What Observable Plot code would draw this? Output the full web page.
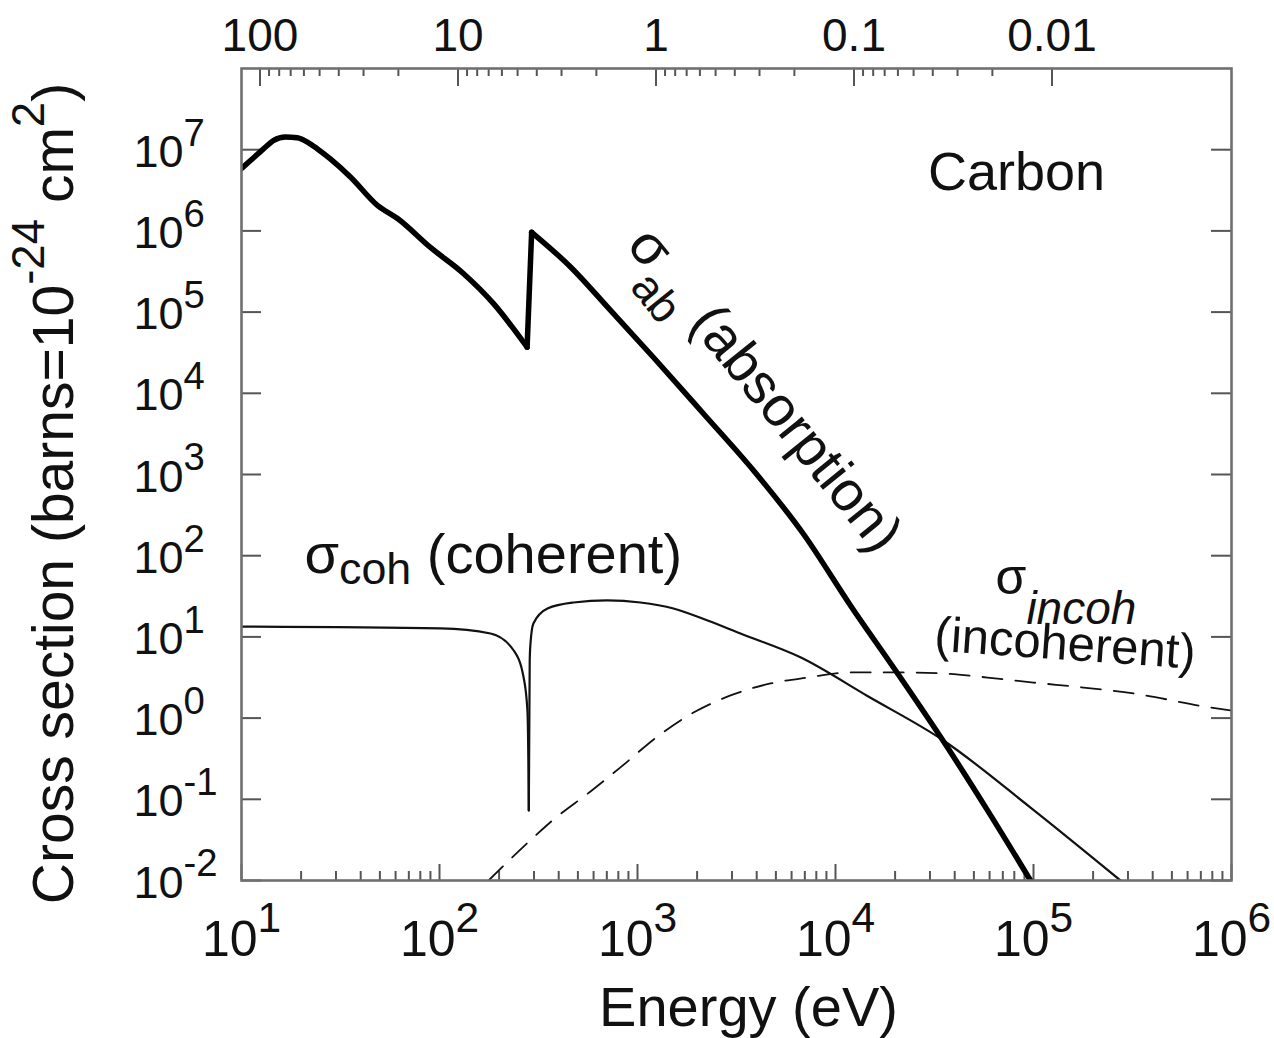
<!DOCTYPE html>
<html>
<head>
<meta charset="utf-8">
<script src="https://cdn.jsdelivr.net/npm/d3@7"></script>
<script src="https://cdn.jsdelivr.net/npm/@observablehq/plot@0.6"></script>
<style>
  html, body { margin: 0; padding: 0; background: #fff; }
  #chart svg { display: block; }
</style>
</head>
<body>
<div id="chart"></div>
<script>
// ---------- data ----------
const hc = 1239.84;    // eV·nm, for the wavelength (nm) axis on top
const kEdge = 284;     // carbon K edge (eV)

// absorption cross section (barns) vs photon energy (eV)
const absEnergy = [10, 11.1, 12.96, 14.55, 16.67, 19.1, 21.5, 24.1, 28.1, 35.6, 48.6, 61.4, 90, 132, 187, 277, 292, 459, 731, 1205, 2155, 3855, 6890, 11900, 20600, 36800, 58600, 96600];
const absSigma  = [5.86e6, 7.36e6, 1.03e7, 1.30e7, 1.43e7, 1.40e7, 1.24e7, 1.03e7, 7.7e6, 4.58e6, 2.06e6, 1.42e6, 6.25e5, 2.99e5, 1.28e5, 3.7e4, 9.6e5, 3.6e5, 1.05e5, 2.76e4, 5.6e3, 1.12e3, 185, 24.4, 3.54, 0.434, 0.073, 0.01];

// coherent scattering cross section
const cohEnergy = [10, 101, 181, 237, 266, 278, 281, 282.5, 285.5, 288, 298, 351, 475, 705, 1035, 1520, 2260, 3311, 6650, 14500, 35100, 96600, 275000];
const cohSigma  = [13.4, 12.7, 11.0, 6.8, 3.16, 1.24, 0.30, 0.073, 5.1, 8.2, 14.6, 22.4, 26.5, 28.1, 26.5, 22.4, 15.9, 11.0, 5.6, 1.87, 0.53, 0.079, 0.01];

// incoherent scattering cross section
const incEnergy = [177, 298, 377, 579, 820, 1262, 1918, 2950, 4700, 7230, 11900, 21300, 35100, 58600, 100000, 179000, 320000, 783000, 1000000];
const incSigma  = [0.01, 0.0339, 0.0564, 0.125, 0.247, 0.593, 1.17, 1.9, 2.67, 3.16, 3.65, 3.65, 3.54, 3.16, 2.74, 2.38, 2.01, 1.35, 1.24];

// axis ticks
const xMajor = [1e1, 1e2, 1e3, 1e4, 1e5, 1e6];
const xMinorMult = [2, 3, 4, 5, 6, 7, 8, 9];
const yMajor = [1e-2, 1e-1, 1e0, 1e1, 1e2, 1e3, 1e4, 1e5, 1e6, 1e7];
const wlLabels = [100, 10, 1, 0.1, 0.01]; // nm
const wlMinorDecades = [10, 1, 0.1, 0.01];

const xMinor = [];
for (const d of xMajor.slice(0, -1)) for (const m of xMinorMult) xMinor.push(d * m);
const wlMinor = [];
for (const d of wlMinorDecades) for (const m of xMinorMult) wlMinor.push(d * m);

const absData = absEnergy.map((e, i) => ({e, s: absSigma[i]}));
const cohData = cohEnergy.map((e, i) => ({e, s: cohSigma[i]}));
const incData = incEnergy.map((e, i) => ({e, s: incSigma[i]}));

// split at the K edge so the smooth curve keeps the sharp jump
const absLow = absData.filter(d => d.e < kEdge);
const absHigh = absData.filter(d => d.e > kEdge);
const absJump = [absLow[absLow.length - 1], absHigh[0]];
const cohMinIdx = cohSigma.indexOf(Math.min(...cohSigma.filter((s, i) => cohEnergy[i] > 200 && cohEnergy[i] < 300)));
const cohLow = cohData.slice(0, cohMinIdx + 1);
const cohHigh = cohData.slice(cohMinIdx);

// ---------- layout ----------
const W = 1274, H = 1038;
const mL = 241, mR = 43, mT = 68, mB = 158;
const fw = W - mL - mR, fh = H - mT - mB;
const fontFamily = "'Liberation Sans', Arial, Helvetica, sans-serif";
const tickColor = "#555";
const ink = "#111";

const expLabel = d => `10^{${Math.round(Math.log10(d))}}`;
const absStyle = {x: "e", y: "s", stroke: "#000", strokeWidth: 5.5, strokeLinejoin: "round", strokeLinecap: "round", clip: true};
const cohStyle = {x: "e", y: "s", stroke: ink, strokeWidth: 2.2, strokeLinejoin: "round", clip: true};

const plot = Plot.plot({
  width: W, height: H,
  marginLeft: mL, marginRight: mR, marginTop: mT, marginBottom: mB,
  x: {type: "log", domain: [10, 1e6], axis: null},
  y: {type: "log", domain: [1e-2, 1e8], axis: null},
  style: {fontFamily, background: "white", color: ink},
  marks: [
    // inward ticks
    Plot.tickX(xMinor, {x: d => d, insetTop: fh - 9, stroke: tickColor, strokeWidth: 2}),
    Plot.tickX(xMajor, {x: d => d, insetTop: fh - 16, stroke: tickColor, strokeWidth: 2}),
    Plot.tickX(wlMinor, {x: d => hc / d, insetBottom: fh - 8, stroke: tickColor, strokeWidth: 2}),
    Plot.tickX(wlLabels, {x: d => hc / d, insetBottom: fh - 18, stroke: tickColor, strokeWidth: 2}),
    Plot.tickY(yMajor, {y: d => d, insetRight: fw - 20, stroke: tickColor, strokeWidth: 2}),
    Plot.tickY(yMajor, {y: d => d, insetLeft: fw - 20, stroke: tickColor, strokeWidth: 2}),

    // curves
    Plot.line(incData, {x: "e", y: "s", stroke: ink, strokeWidth: 1.8, strokeDasharray: "20,13", curve: "monotone-x", clip: true}),
    Plot.line(cohLow, {...cohStyle, curve: "monotone-x"}),
    Plot.line(cohHigh, {...cohStyle, curve: "monotone-x"}),
    Plot.line(absLow, {...absStyle, curve: "monotone-x"}),
    Plot.line(absJump, {...absStyle, curve: "linear"}),
    Plot.line(absHigh, {...absStyle, curve: "monotone-x"}),

    Plot.frame({stroke: "#707070", strokeWidth: 2.6}),

    // tick labels
    Plot.text(yMajor, {y: d => d, text: expLabel, frameAnchor: "left", dx: -108, dy: 17,
      textAnchor: "start", lineAnchor: "bottom", fontSize: 45, fill: ink}),
    Plot.text(xMajor, {x: d => d, text: expLabel, frameAnchor: "bottom", dy: 75,
      textAnchor: "middle", lineAnchor: "bottom", fontSize: 50, fill: ink}),
    Plot.text(wlLabels, {x: d => hc / d, text: d => String(d), frameAnchor: "top", dy: -18,
      textAnchor: "middle", lineAnchor: "bottom", fontSize: 46, fill: ink}),

    // axis titles
    Plot.text(["Cross section (barns=10^{-24} cm^{2})"], {text: d => d, frameAnchor: "left", dx: -169, dy: 19,
      rotate: -90, textAnchor: "middle", lineAnchor: "bottom", fontSize: 57, fill: ink}),
    Plot.text(["Energy (eV)"], {text: d => d, frameAnchor: "bottom", dx: 12, dy: 145,
      textAnchor: "middle", lineAnchor: "bottom", fontSize: 56, fill: ink}),

    // annotations
    Plot.text([{x: 8.2e4, y: 3.15e6, t: "Carbon"}], {x: "x", y: "y", text: "t",
      textAnchor: "middle", lineAnchor: "bottom", fontSize: 54, fill: ink}),
    Plot.text([{x: 20.8, y: 62, t: "σ_{coh} (coherent)"}], {x: "x", y: "y", text: "t",
      textAnchor: "start", lineAnchor: "bottom", fontSize: 56, fill: ink}),
    Plot.text([{x: 869, y: 6.56e5, t: "σ_{ab} (absorption)"}], {x: "x", y: "y", text: "t", rotate: 51,
      textAnchor: "start", lineAnchor: "bottom", fontSize: 56, fill: ink}),
    Plot.text([{x: 6.43e4, y: 34.2, t: "σ_{incoh}"}], {x: "x", y: "y", text: "t",
      textAnchor: "start", lineAnchor: "bottom", fontSize: 50, fill: ink}),
    Plot.text([{x: 3.13e4, y: 6.8, t: "(incoherent)"}], {x: "x", y: "y", text: "t", rotate: 4,
      textAnchor: "start", lineAnchor: "bottom", fontSize: 49, fill: ink})
  ]
});

document.getElementById("chart").appendChild(plot);

// ---------- rich text (super/subscripts) ----------
const richOpts = {
  "σ_{coh} (coherent)": {sub: {scale: 0.8, shift: 0.2}},
  "σ_{ab} (absorption)": {sub: {scale: 0.8, shift: 0.42}},
  "σ_{incoh}": {sub: {scale: 0.92, shift: 0.6, italic: true}},
  "Cross section (barns=10^{-24} cm^{2})": {sup: {scale: 0.8, shift: -0.5}}
};
const defaultOpts = {sup: {scale: 0.85, shift: -0.47}, sub: {scale: 0.8, shift: 0.25}};
const svgNS = "http://www.w3.org/2000/svg";

plot.querySelectorAll("text").forEach(el => {
  const raw = el.textContent;
  if (!raw.includes("{")) return;
  const fs = parseFloat(getComputedStyle(el).fontSize);
  const opts = Object.assign({}, defaultOpts, richOpts[raw] || {});
  const parts = [];
  const re = /(\^|_)\{([^}]*)\}/g;
  let last = 0, m;
  while ((m = re.exec(raw))) {
    if (m.index > last) parts.push({t: raw.slice(last, m.index)});
    parts.push(Object.assign({t: m[2]}, m[1] === "^" ? opts.sup : opts.sub));
    last = re.lastIndex;
  }
  if (last < raw.length) parts.push({t: raw.slice(last)});
  el.textContent = "";
  el.style.whiteSpace = "pre";
  let cur = 0;
  for (const p of parts) {
    const ts = document.createElementNS(svgNS, "tspan");
    const target = (p.shift || 0) * fs;
    const dy = target - cur;
    if (Math.abs(dy) > 1e-6) ts.setAttribute("dy", dy.toFixed(2));
    cur = target;
    if (p.scale) ts.setAttribute("font-size", (p.scale * fs).toFixed(2));
    if (p.italic) ts.setAttribute("font-style", "italic");
    ts.textContent = p.t;
    el.appendChild(ts);
  }
});
</script>
</body>
</html>
